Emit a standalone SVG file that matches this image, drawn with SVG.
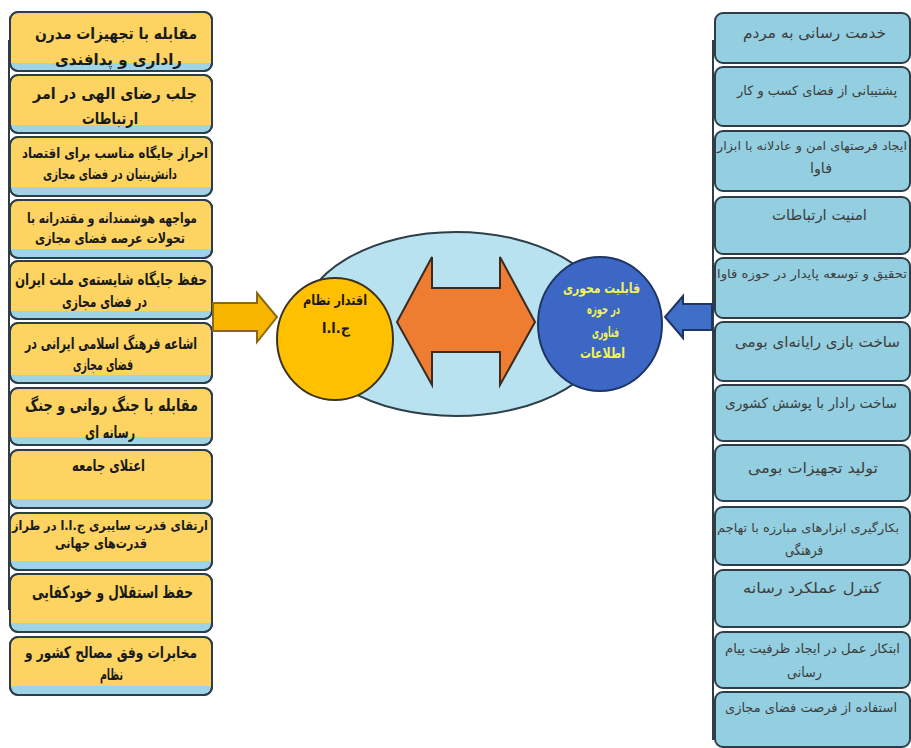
<svg xmlns="http://www.w3.org/2000/svg" width="911" height="748" viewBox="0 0 911 748">
<style>
.lb{fill:#9fd4e6;stroke:#2e3d48;stroke-width:2}
.ly{fill:#fdd462}
.rb{fill:#93cfe0;stroke:#2e3d48;stroke-width:2}
.lt{font-family:"DejaVu Sans",sans-serif;font-weight:bold;fill:#1a1a1a}
.rt{font-family:"DejaVu Sans",sans-serif;fill:#3d3d3d}
.ct{font-family:"DejaVu Sans",sans-serif;font-weight:bold}
</style>
<rect width="911" height="748" fill="#ffffff"/>
<g id="rails" stroke="#2e3d48" stroke-width="2">
<line x1="9" y1="40" x2="9" y2="610"/>
<line x1="713" y1="40" x2="713" y2="740"/>
</g>
<g id="left-1"><rect class="lb" x="10" y="12" width="202" height="59" rx="8"/><path class="ly" d="M19,13 H203 Q211,13 211,21 V63 H11 V21 Q11,13 19,13 Z"/><rect x="10" y="12" width="202" height="59" rx="8" fill="none" stroke="#2e3d48" stroke-width="2"/><text class="lt" x="35" y="39" font-size="16" textLength="162" lengthAdjust="spacingAndGlyphs">مقابله  با تجهیزات مدرن</text><text class="lt" x="55" y="65" font-size="16" textLength="127" lengthAdjust="spacingAndGlyphs">راداری و پدافندی</text></g>
<g id="left-2"><rect class="lb" x="10" y="75" width="202" height="58" rx="8"/><path class="ly" d="M19,76 H203 Q211,76 211,84 V125 H11 V84 Q11,76 19,76 Z"/><rect x="10" y="75" width="202" height="58" rx="8" fill="none" stroke="#2e3d48" stroke-width="2"/><text class="lt" x="33" y="99" font-size="16" textLength="164" lengthAdjust="spacingAndGlyphs">جلب رضای الهی در امر</text><text class="lt" x="82" y="124" font-size="16" textLength="56" lengthAdjust="spacingAndGlyphs">ارتباطات</text></g>
<g id="left-3"><rect class="lb" x="10" y="137" width="202" height="59" rx="8"/><path class="ly" d="M19,138 H203 Q211,138 211,146 V187 H11 V146 Q11,138 19,138 Z"/><rect x="10" y="137" width="202" height="59" rx="8" fill="none" stroke="#2e3d48" stroke-width="2"/><text class="lt" x="22" y="158" font-size="14" textLength="186" lengthAdjust="spacingAndGlyphs">احراز جایگاه مناسب برای اقتصاد</text><text class="lt" x="43" y="179" font-size="14" textLength="134" lengthAdjust="spacingAndGlyphs">دانش‌بنیان در فضای مجازی</text></g>
<g id="left-4"><rect class="lb" x="10" y="200" width="202" height="58" rx="8"/><path class="ly" d="M19,201 H203 Q211,201 211,209 V249 H11 V209 Q11,201 19,201 Z"/><rect x="10" y="200" width="202" height="58" rx="8" fill="none" stroke="#2e3d48" stroke-width="2"/><text class="lt" x="27" y="223" font-size="14" textLength="170" lengthAdjust="spacingAndGlyphs">مواجهه هوشمندانه و مقتدرانه با</text><text class="lt" x="35" y="243" font-size="14" textLength="150" lengthAdjust="spacingAndGlyphs">تحولات عرصه فضای مجازی</text></g>
<g id="left-5"><rect class="lb" x="10" y="261" width="202" height="58" rx="8"/><path class="ly" d="M19,262 H203 Q211,262 211,270 V311 H11 V270 Q11,262 19,262 Z"/><rect x="10" y="261" width="202" height="58" rx="8" fill="none" stroke="#2e3d48" stroke-width="2"/><text class="lt" x="15" y="285" font-size="16" textLength="192" lengthAdjust="spacingAndGlyphs">حفظ جایگاه شایسته‌ی ملت ایران</text><text class="lt" x="62" y="307" font-size="16" textLength="85" lengthAdjust="spacingAndGlyphs">در فضای مجازی</text></g>
<g id="left-6"><rect class="lb" x="10" y="323" width="202" height="60" rx="8"/><path class="ly" d="M19,324 H203 Q211,324 211,332 V375 H11 V332 Q11,324 19,324 Z"/><rect x="10" y="323" width="202" height="60" rx="8" fill="none" stroke="#2e3d48" stroke-width="2"/><text class="lt" x="25" y="349" font-size="16" textLength="172" lengthAdjust="spacingAndGlyphs">اشاعه فرهنگ اسلامی ایرانی در</text><text class="lt" x="73" y="370" font-size="16" textLength="60" lengthAdjust="spacingAndGlyphs">فضای مجازی</text></g>
<g id="left-7"><rect class="lb" x="10" y="388" width="202" height="57" rx="8"/><path class="ly" d="M19,389 H203 Q211,389 211,397 V437 H11 V397 Q11,389 19,389 Z"/><rect x="10" y="388" width="202" height="57" rx="8" fill="none" stroke="#2e3d48" stroke-width="2"/><text class="lt" x="25" y="411" font-size="17" textLength="173" lengthAdjust="spacingAndGlyphs">مقابله با جنگ روانی و جنگ</text><text class="lt" x="85" y="438" font-size="17" textLength="50" lengthAdjust="spacingAndGlyphs">رسانه ای</text></g>
<g id="left-8"><rect class="lb" x="10" y="450" width="202" height="58" rx="8"/><path class="ly" d="M19,451 H203 Q211,451 211,459 V499 H11 V459 Q11,451 19,451 Z"/><rect x="10" y="450" width="202" height="58" rx="8" fill="none" stroke="#2e3d48" stroke-width="2"/><text class="lt" x="72" y="471" font-size="16" textLength="73" lengthAdjust="spacingAndGlyphs">اعتلای جامعه</text></g>
<g id="left-9"><rect class="lb" x="10" y="513" width="202" height="57" rx="8"/><path class="ly" d="M19,514 H203 Q211,514 211,522 V561 H11 V522 Q11,514 19,514 Z"/><rect x="10" y="513" width="202" height="57" rx="8" fill="none" stroke="#2e3d48" stroke-width="2"/><text class="lt" x="12" y="530" font-size="13" textLength="196" lengthAdjust="spacingAndGlyphs">ارتقای قدرت سایبری ج.ا.ا در طراز</text><text class="lt" x="55" y="548" font-size="14" textLength="92" lengthAdjust="spacingAndGlyphs">قدرت‌های جهانی</text></g>
<g id="left-10"><rect class="lb" x="10" y="574" width="202" height="58" rx="8"/><path class="ly" d="M19,575 H203 Q211,575 211,583 V623 H11 V583 Q11,575 19,575 Z"/><rect x="10" y="574" width="202" height="58" rx="8" fill="none" stroke="#2e3d48" stroke-width="2"/><text class="lt" x="32" y="598" font-size="17" textLength="161" lengthAdjust="spacingAndGlyphs">حفظ استقلال و خودکفایی</text></g>
<g id="left-11"><rect class="lb" x="10" y="637" width="202" height="58" rx="8"/><path class="ly" d="M19,638 H203 Q211,638 211,646 V686 H11 V646 Q11,638 19,638 Z"/><rect x="10" y="637" width="202" height="58" rx="8" fill="none" stroke="#2e3d48" stroke-width="2"/><text class="lt" x="25" y="658" font-size="16" textLength="172" lengthAdjust="spacingAndGlyphs">مخابرات وفق مصالح کشور و</text><text class="lt" x="100" y="680" font-size="16" textLength="23" lengthAdjust="spacingAndGlyphs">نظام</text></g>

<g id="right-1"><rect class="rb" x="715" y="13" width="195" height="50" rx="8"/><text class="rt" x="743" y="38" font-size="15" textLength="143" lengthAdjust="spacingAndGlyphs">خدمت رسانی به مردم</text></g>
<g id="right-2"><rect class="rb" x="715" y="67" width="195" height="59" rx="8"/><text class="rt" x="737" y="95" font-size="13" textLength="160" lengthAdjust="spacingAndGlyphs">پشتیبانی از فضای کسب و کار</text></g>
<g id="right-3"><rect class="rb" x="715" y="131" width="195" height="60" rx="8"/><text class="rt" x="717" y="150" font-size="12" textLength="190" lengthAdjust="spacingAndGlyphs">ایجاد فرصتهای امن و عادلانه با ابزار</text><text class="rt" x="810" y="173" font-size="14" textLength="22" lengthAdjust="spacingAndGlyphs">فاوا</text></g>
<g id="right-4"><rect class="rb" x="715" y="197" width="195" height="57" rx="8"/><text class="rt" x="772" y="220" font-size="15" textLength="95" lengthAdjust="spacingAndGlyphs">امنیت ارتباطات</text></g>
<g id="right-5"><rect class="rb" x="715" y="258" width="195" height="60" rx="8"/><text class="rt" x="717" y="278" font-size="12" textLength="190" lengthAdjust="spacingAndGlyphs">تحقیق و توسعه پایدار در حوزه فاوا</text></g>
<g id="right-6"><rect class="rb" x="715" y="322" width="195" height="59" rx="8"/><text class="rt" x="735" y="347" font-size="15" textLength="165" lengthAdjust="spacingAndGlyphs">ساخت بازی رایانه‌ای بومی</text></g>
<g id="right-7"><rect class="rb" x="715" y="385" width="195" height="56" rx="8"/><text class="rt" x="725" y="408" font-size="14" textLength="172" lengthAdjust="spacingAndGlyphs">ساخت رادار با پوشش کشوری</text></g>
<g id="right-8"><rect class="rb" x="715" y="445" width="195" height="56" rx="8"/><text class="rt" x="748" y="473" font-size="15" textLength="130" lengthAdjust="spacingAndGlyphs">تولید تجهیزات بومی</text></g>
<g id="right-9"><rect class="rb" x="715" y="507" width="195" height="58" rx="8"/><text class="rt" x="717" y="532" font-size="12" textLength="182" lengthAdjust="spacingAndGlyphs">بکارگیری ابزارهای مبارزه با تهاجم</text><text class="rt" x="785" y="555" font-size="14" textLength="38" lengthAdjust="spacingAndGlyphs">فرهنگی</text></g>
<g id="right-10"><rect class="rb" x="715" y="570" width="195" height="57" rx="8"/><text class="rt" x="743" y="593" font-size="15" textLength="138" lengthAdjust="spacingAndGlyphs">کنترل عملکرد رسانه</text></g>
<g id="right-11"><rect class="rb" x="715" y="632" width="195" height="56" rx="8"/><text class="rt" x="725" y="653" font-size="13" textLength="175" lengthAdjust="spacingAndGlyphs">ابتکار عمل در ایجاد ظرفیت پیام</text><text class="rt" x="787" y="677" font-size="14" textLength="35" lengthAdjust="spacingAndGlyphs">رسانی</text></g>
<g id="right-12"><rect class="rb" x="715" y="692" width="195" height="55" rx="8"/><text class="rt" x="725" y="712" font-size="13" textLength="172" lengthAdjust="spacingAndGlyphs">استفاده از فرصت فضای مجازی</text></g>

<g id="hub"><ellipse cx="456" cy="324" rx="155" ry="92" fill="#b8e2ef" stroke="#2e3d48" stroke-width="2"/></g>
<g id="connectors" stroke-width="2" stroke-linejoin="miter">
<polygon points="397,322 432,257 432,288 500,288 500,257 535,322 500,385 500,352 432,352 432,385" fill="#ee7d31" stroke="#3a2a20"/>
<polygon points="213,303 257,303 257,293 277,317 257,342 257,331 213,331" fill="#f7b500" stroke="#8a6a10"/>
<polygon points="712,304 683,304 683,296 665,317 683,338 683,330 712,330" fill="#3f6fc6" stroke="#1f3563"/>
</g>
<g id="node-iran"><ellipse cx="335" cy="339" rx="58" ry="61" fill="#ffc000" stroke="#3a3320" stroke-width="2"/><text class="ct" x="303" y="305" font-size="14" fill="#1a1a1a" textLength="64" lengthAdjust="spacingAndGlyphs">اقتدار نظام</text><text class="ct" x="322" y="333" font-size="14" fill="#1a1a1a" textLength="28" lengthAdjust="spacingAndGlyphs">ج.ا.ا</text></g>
<g id="node-ict"><ellipse cx="600" cy="324" rx="62" ry="67" fill="#3d67c4" stroke="#1f3563" stroke-width="2"/><text class="ct" x="563" y="293" font-size="14" fill="#f4f456" textLength="77" lengthAdjust="spacingAndGlyphs">قابلیت محوری</text><text class="ct" x="587" y="314" font-size="14" fill="#f4f456" textLength="33" lengthAdjust="spacingAndGlyphs">در حوزه</text><text class="ct" x="592" y="337" font-size="14" fill="#f4f456" textLength="27" lengthAdjust="spacingAndGlyphs">فناوری</text><text class="ct" x="580" y="358" font-size="14" fill="#f4f456" textLength="45" lengthAdjust="spacingAndGlyphs">اطلاعات</text></g>
</svg>
